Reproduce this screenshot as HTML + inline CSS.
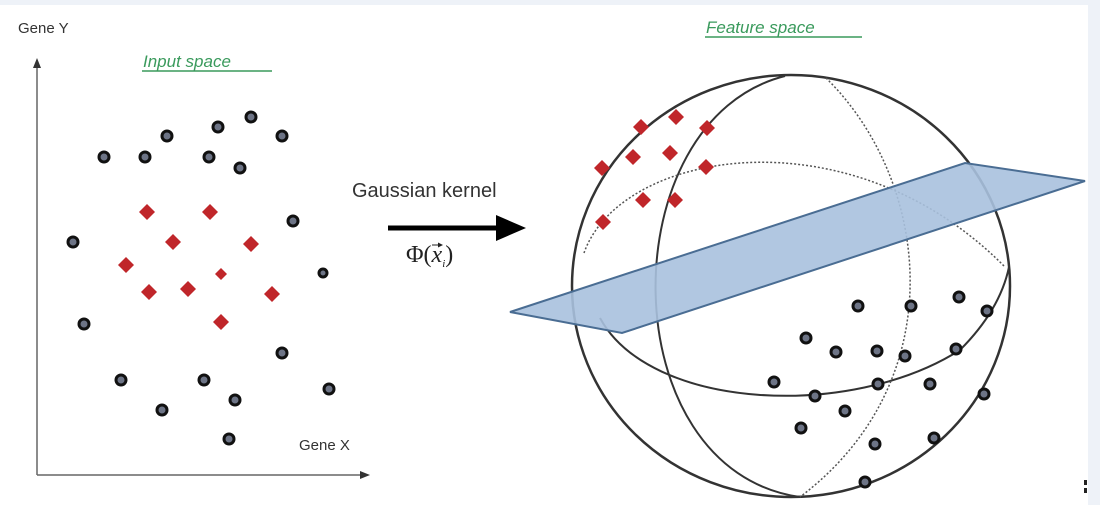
<!DOCTYPE html>
<html><head><meta charset="utf-8"><style>
html,body{margin:0;padding:0;background:#fff;}
svg{display:block;}
</style></head><body>
<svg width="1100" height="505" viewBox="0 0 1100 505" xmlns="http://www.w3.org/2000/svg">
<rect width="1100" height="505" fill="#fff"/>
<rect width="1100" height="5" fill="#eef2f8"/>
<rect x="1088" width="12" height="505" fill="#eef2f8"/>
<line x1="37" y1="66" x2="37" y2="475" stroke="#666" stroke-width="1.5"/>
<polygon points="37,58 33,68 41,68" fill="#333"/>
<line x1="37" y1="475" x2="362" y2="475" stroke="#666" stroke-width="1.5"/>
<polygon points="370,475 360,471 360,479" fill="#333"/>
<text x="18" y="33" font-family="Liberation Sans, sans-serif" font-size="15" fill="#333">Gene Y</text>
<text x="299" y="450" font-family="Liberation Sans, sans-serif" font-size="15" fill="#333">Gene X</text>
<text x="143" y="67" font-family="Liberation Sans, sans-serif" font-size="17" font-style="italic" fill="#3a9a5c">Input space</text>
<line x1="142" y1="71" x2="272" y2="71" stroke="#3a9a5c" stroke-width="1.5"/>
<text x="706" y="33" font-family="Liberation Sans, sans-serif" font-size="17" font-style="italic" fill="#3a9a5c">Feature space</text>
<line x1="705" y1="37" x2="862" y2="37" stroke="#3a9a5c" stroke-width="1.5"/>
<text x="352" y="197" font-family="Liberation Sans, sans-serif" font-size="20" fill="#333">Gaussian kernel</text>
<line x1="388" y1="228" x2="500" y2="228" stroke="#000" stroke-width="5"/>
<polygon points="526,228 496,215 496,241" fill="#000"/>
<text x="406" y="262" font-family="Liberation Serif, serif" font-size="24" fill="#222">Φ(<tspan font-style="italic">x</tspan><tspan font-size="11" font-style="italic" dy="5">i</tspan><tspan dy="-5">)</tspan></text>
<line x1="432" y1="245" x2="441" y2="245" stroke="#222" stroke-width="1"/>
<polygon points="443,245 438,242.5 438,247.5" fill="#222"/>
<g fill="none" stroke="#333" stroke-width="2">
<ellipse cx="791" cy="286" rx="219" ry="211" stroke-width="2.5"/>
<path d="M785,76 C 610,120 610,470 800,497"/>
<path d="M600,318 C 650,410 850,420 960,350 Q1000,310 1009,267"/>
</g>
<g fill="none" stroke="#555" stroke-width="1.5" stroke-dasharray="2,2">
<path d="M584,253 C 620,150 850,110 1005,267"/>
<path d="M826,78 C 930,180 955,380 800,497"/>
</g>
<polygon points="510,312 965,163 1085,181 622,333" fill="#a9c1de" fill-opacity="0.9" stroke="#4a6d93" stroke-width="2"/>
<g fill="#c0262a">
<polygon points="147,204 155,212 147,220 139,212"/><polygon points="210,204 218,212 210,220 202,212"/>
<polygon points="173,234 181,242 173,250 165,242"/><polygon points="251,236 259,244 251,252 243,244"/>
<polygon points="126,257 134,265 126,273 118,265"/><polygon points="221,268 227,274 221,280 215,274"/>
<polygon points="149,284 157,292 149,300 141,292"/><polygon points="188,281 196,289 188,297 180,289"/>
<polygon points="272,286 280,294 272,302 264,294"/><polygon points="221,314 229,322 221,330 213,322"/>
<polygon points="641,119 649,127 641,135 633,127"/><polygon points="676,109 684,117 676,125 668,117"/>
<polygon points="707,120 715,128 707,136 699,128"/><polygon points="602,160 610,168 602,176 594,168"/>
<polygon points="633,149 641,157 633,165 625,157"/><polygon points="670,145 678,153 670,161 662,153"/>
<polygon points="706,159 714,167 706,175 698,167"/><polygon points="603,214 611,222 603,230 595,222"/>
<polygon points="643,192 651,200 643,208 635,200"/><polygon points="675,192 683,200 675,208 667,200"/>
</g>
<g fill="#6d7486" stroke="#111" stroke-width="3">
<circle cx="167" cy="136" r="5"/><circle cx="218" cy="127" r="5"/><circle cx="251" cy="117" r="5"/><circle cx="282" cy="136" r="5"/>
<circle cx="104" cy="157" r="5"/><circle cx="145" cy="157" r="5"/><circle cx="209" cy="157" r="5"/><circle cx="240" cy="168" r="5"/>
<circle cx="293" cy="221" r="5"/><circle cx="73" cy="242" r="5"/><circle cx="323" cy="273" r="4"/><circle cx="84" cy="324" r="5"/>
<circle cx="282" cy="353" r="5"/><circle cx="121" cy="380" r="5"/><circle cx="204" cy="380" r="5"/><circle cx="329" cy="389" r="5"/>
<circle cx="235" cy="400" r="5"/><circle cx="162" cy="410" r="5"/><circle cx="229" cy="439" r="5"/>
<circle cx="858" cy="306" r="5"/><circle cx="911" cy="306" r="5"/><circle cx="959" cy="297" r="5"/><circle cx="987" cy="311" r="5"/>
<circle cx="806" cy="338" r="5"/><circle cx="836" cy="352" r="5"/><circle cx="877" cy="351" r="5"/><circle cx="905" cy="356" r="5"/>
<circle cx="956" cy="349" r="5"/><circle cx="774" cy="382" r="5"/><circle cx="815" cy="396" r="5"/><circle cx="878" cy="384" r="5"/>
<circle cx="930" cy="384" r="5"/><circle cx="984" cy="394" r="5"/><circle cx="845" cy="411" r="5"/><circle cx="801" cy="428" r="5"/>
<circle cx="875" cy="444" r="5"/><circle cx="934" cy="438" r="5"/><circle cx="865" cy="482" r="5"/>
</g>
<rect x="1084" y="480" width="3" height="5" fill="#222"/>
<rect x="1084" y="488" width="3" height="5" fill="#222"/>
</svg>
</body></html>
